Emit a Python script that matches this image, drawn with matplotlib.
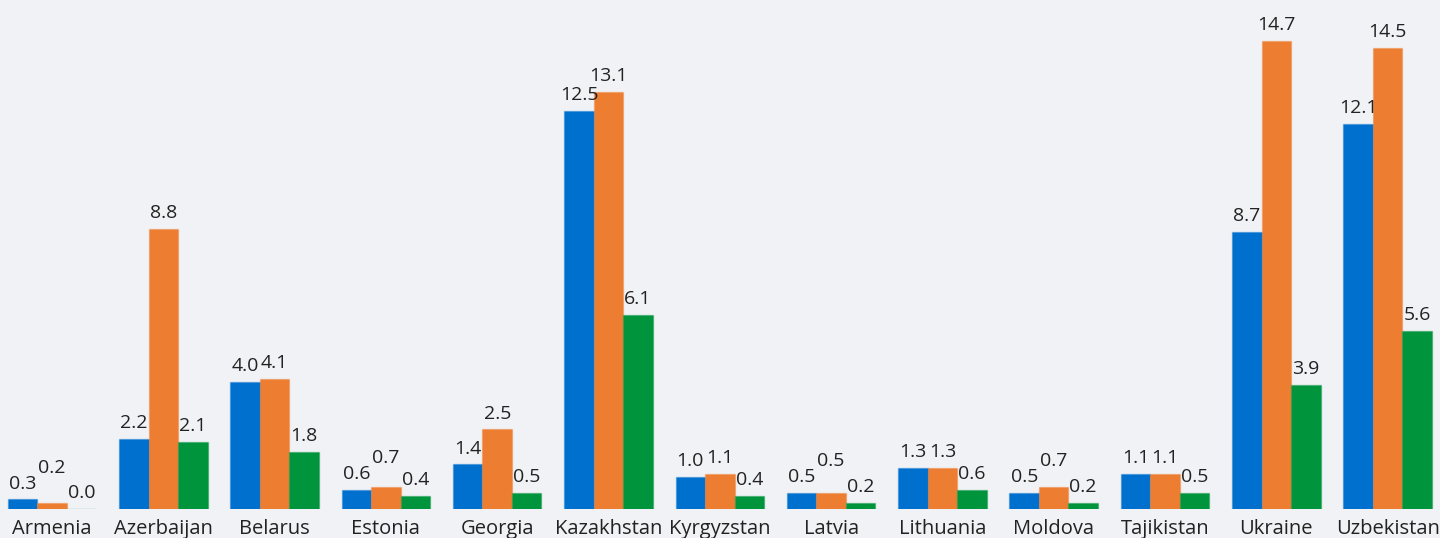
import numpy as np
import matplotlib
matplotlib.use("Agg")
import matplotlib.pyplot as plt
from matplotlib.colors import to_rgba

countries = ["Armenia", "Azerbaijan", "Belarus", "Estonia", "Georgia", "Kazakhstan",
             "Kyrgyzstan", "Latvia", "Lithuania", "Moldova", "Tajikistan", "Ukraine",
             "Uzbekistan"]
series_a = [0.3, 2.2, 4.0, 0.6, 1.4, 12.5, 1.0, 0.5, 1.3, 0.5, 1.1, 8.7, 12.1]
series_b = [0.2, 8.8, 4.1, 0.7, 2.5, 13.1, 1.1, 0.5, 1.3, 0.7, 1.1, 14.7, 14.5]
series_c = [0.0, 2.1, 1.8, 0.4, 0.5, 6.1, 0.4, 0.2, 0.6, 0.2, 0.5, 3.9, 5.6]

# labels that sit above their left neighbour's label (overlap shift)
lifted = {("Armenia", 1), ("Estonia", 1), ("Latvia", 1), ("Moldova", 1)}

colors = ["#0070CE", "#ED7D31", "#00943C"]
BG = "#F0F2F5"

plt.rcParams['font.family'] = ["Open Sans", "DejaVu Sans"]

W, H = 1440, 538
fig = plt.figure(figsize=(W/100, H/100), dpi=100, facecolor=BG)
ax = fig.add_axes([0, 29/H, 1, 509/H])
ax.set_facecolor(BG)

step = 111.3
x = np.arange(len(countries))
bw = 29.5/step
data = [series_a, series_b, series_c]
for j, (vals, c) in enumerate(zip(data, colors)):
    xs = x + (j-1)*bw
    ax.bar(xs, vals, width=bw, color=c, edgecolor=to_rgba(c, 0.35), linewidth=1.0, zorder=2)
    for i, v in enumerate(vals):
        if (countries[i], j) in lifted:
            ref = data[j-1][i]
            off = 5 + 11.5
        else:
            ref = v
            off = 5
        ax.annotate(f"{v:.1f}", xy=(xs[i], ref), xytext=(0, off), textcoords="offset points",
                    ha="center", va="bottom", fontsize=14, color="#222222", zorder=3)

ax.set_xlim(-52/step, (W-52)/step)
ax.set_ylim(0, 16)
ax.set_xticks(x)
ax.set_xticklabels(countries, fontsize=14.5, color="#222222")
ax.tick_params(axis="x", length=0, pad=7)
ax.set_yticks([])
for s in ax.spines.values():
    s.set_visible(False)

fig.savefig("out.png", dpi=100, facecolor=BG)
